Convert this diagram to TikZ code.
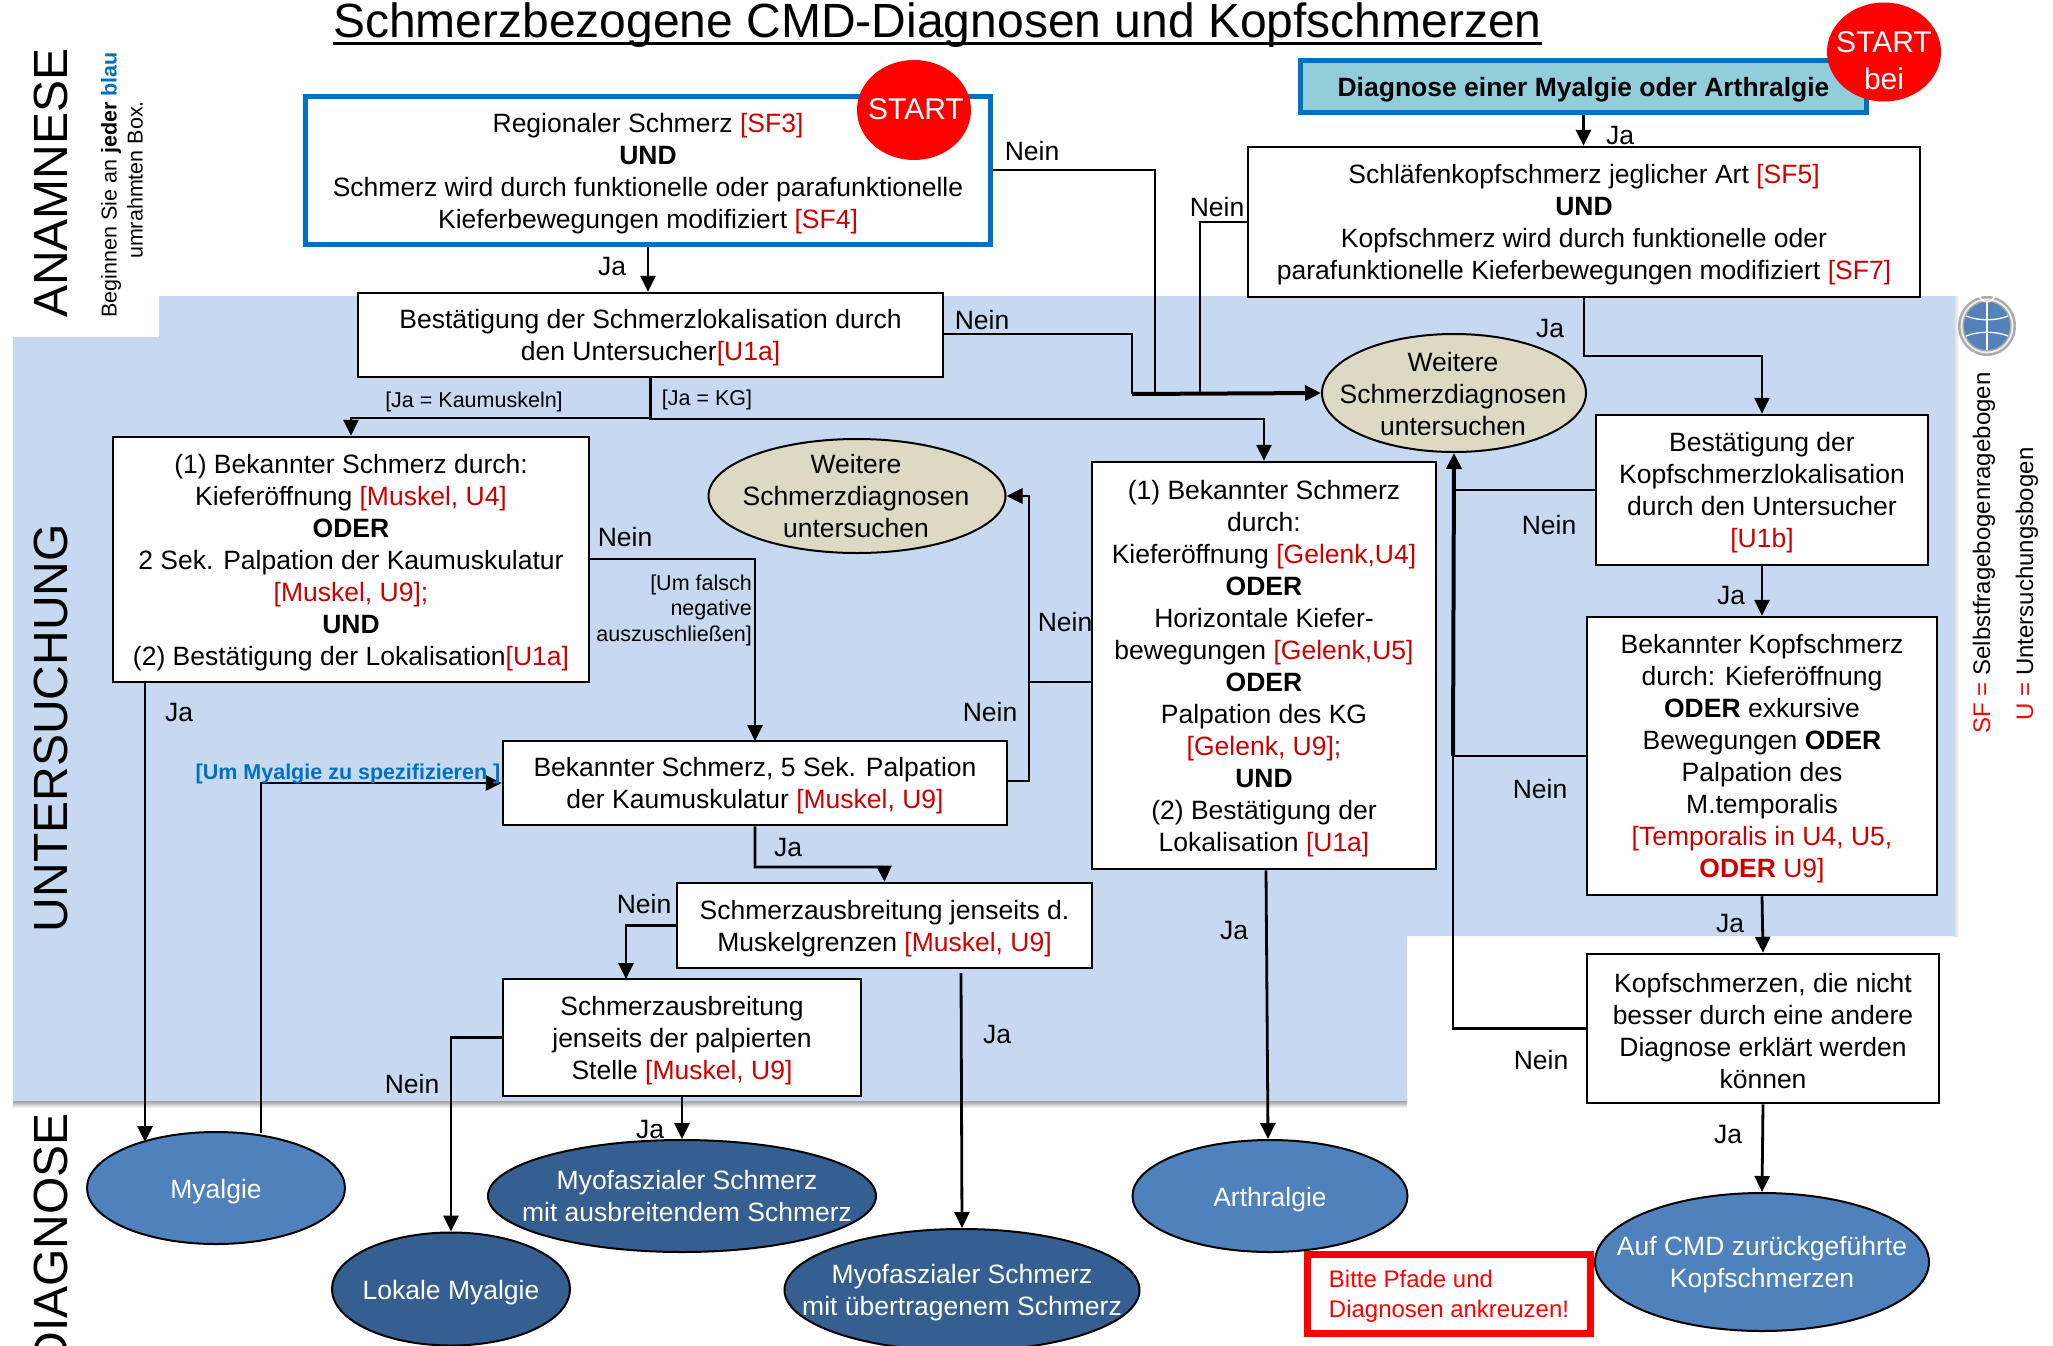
\documentclass[tikz,border=0pt]{standalone}
\usepackage{fontspec}
\setmainfont{Liberation Sans}
\usetikzlibrary{shapes.geometric,arrows.meta}
\definecolor{bgblue}{RGB}{198,217,241}
\definecolor{startblue}{RGB}{0,112,192}
\definecolor{headteal}{RGB}{146,205,220}
\definecolor{refred}{RGB}{204,0,0}
\definecolor{tan}{RGB}{221,217,195}
\definecolor{diagA}{RGB}{79,129,189}
\definecolor{diagB}{RGB}{54,95,145}
\newcommand{\rf}[1]{\textcolor{refred}{#1}}
\newcommand{\fs}[2]{\fontsize{#1}{#2}\selectfont}
\newcommand{\tp}{\rule{0pt}{24.5pt}}
\tikzset{
  x=1pt,y=-1pt,
  box/.style={draw=black,fill=white,line width=2.5pt,inner sep=0pt,align=center,font=\fs{26.5}{32}},
  startbox/.style={draw=startblue,line width=5.5pt,inner sep=0pt,align=center,font=\fs{26.5}{32}},
  redoval/.style={ellipse,fill=red,inner sep=0pt},
  ovaltext/.style={align=center,font=\fs{26.5}{32},inner sep=0pt},
  starttext/.style={align=center,font=\fs{30}{32},inner sep=0pt,text=white},
  oval/.style={ellipse,draw=black,line width=2pt,inner sep=0pt},
  tanoval/.style={oval,fill=tan},
  diaga/.style={oval,fill=diagA},
  diagb/.style={oval,fill=diagB},
  conn/.style={draw=black,line width=2.8pt,-{Triangle[length=16pt,width=15pt]}},
  plainconn/.style={draw=black,line width=2.8pt},
  thickconn/.style={draw=black,line width=4pt,-{Triangle[length=16pt,width=15pt]}},
  lab/.style={font=\fs{26.5}{32},inner sep=0pt},
  small/.style={font=\fs{21.5}{25.5},inner sep=0pt},
  section/.style={font=\fs{48}{50},rotate=90,inner sep=0pt},
  side/.style={font=\fs{24}{26},rotate=90,inner sep=0pt},
}
\begin{document}
\begin{tikzpicture}
\useasboundingbox (0,0) rectangle (2053,1346);
\fill[white] (0,0) rectangle (2053,1346);
% background band
\shade[top color=gray!75,bottom color=white] (13,1101) rectangle (1407,1108);
\shade[left color=gray!30,right color=white] (1954,296) rectangle (1959,936);
\fill[bgblue] (159,296) -- (1954,296) -- (1954,936) -- (1407,936) -- (1407,1101) -- (13,1101) -- (13,337) -- (159,337) -- cycle;
% title
\node[font=\fs{48}{50},anchor=base,inner sep=0pt] (title) at (937.5,38) {Schmerzbezogene CMD-Diagnosen und Kopfschmerzen};
\draw[line width=3pt] (title.west |- 0,44) -- (title.east |- 0,44);
% side texts
\node[section] (anam) at (51,183) {ANAMNESE};
\node[section] (unter) at (51,728) {UNTERSUCHUNG};
\node[section,anchor=east] (diag) at (51,1113) {DIAGNOSE};
\node[font=\fs{21.5}{24},rotate=90,inner sep=0pt] (beg1) at (111,185) {Beginnen Sie an \textbf{jeder} \textcolor{startblue}{\textbf{blau}}};
\node[font=\fs{21.5}{24},rotate=90,inner sep=0pt] (beg2) at (135,180) {umrahmten Box.};
\node[side] (sf) at (1984,553) {\textcolor{red}{SF =} Selbstfragebogenragebogen};
\node[side] (ub) at (2027,584) {\textcolor{red}{U =} Untersuchungsbogen};
% logo
\begin{scope}
\fill[gray!65] (1987,326) ellipse [x radius=29,y radius=30];
\fill[gray!15] (1987,326) ellipse [x radius=26.5,y radius=27.5];
\fill[gray!70] (1987,326) ellipse [x radius=24.5,y radius=25.5];
\fill[diagA!90!gray] (1987,326) ellipse [x radius=23,y radius=24];
\draw[white,line width=1.3pt] (1987,302) -- (1987,350);
\draw[white,line width=1.3pt] (1987,302) arc [start angle=90,end angle=270,x radius=12,y radius=24];
\draw[white,line width=1.3pt] (1987,302) arc [start angle=90,end angle=-90,x radius=12,y radius=24];
\draw[white,line width=1.3pt] (1966,316) .. controls (1978,321) and (1996,321) .. (2008,316);
\draw[white,line width=1.3pt] (1966,336) .. controls (1978,331) and (1996,331) .. (2008,336);
\end{scope}
% boxes
\node[startbox,fill=white,minimum width=685,minimum height=148] (regional) at (648,170.5) {\tp Regionaler Schmerz \rf{[SF3]}\\\textbf{UND}\\Schmerz wird durch funktionelle oder parafunktionelle\\Kieferbewegungen modifiziert \rf{[SF4]}};
\node[redoval,minimum width=114,minimum height=100,label={[starttext,xshift=2pt,yshift=1pt]center:START}] (start1) at (914,110) {};
\node[startbox,fill=headteal,minimum width=566,minimum height=52] (head) at (1583.5,86.5) {\rule{0pt}{26pt}\textbf{Diagnose einer Myalgie oder Arthralgie}};
\node[redoval,minimum width=114,minimum height=99,label={[starttext,yshift=-9pt]center:START\\[5pt]bei}] (start2) at (1884,52) {};
\node[box,minimum width=672,minimum height=150] (schlaef) at (1584,222) {\tp Schläfenkopfschmerz jeglicher Art \rf{[SF5]}\\\textbf{UND}\\Kopfschmerz wird durch funktionelle oder\\parafunktionelle Kieferbewegungen modifiziert \rf{[SF7]}};
\node[box,minimum width=585,minimum height=84] (best) at (650.5,335) {\tp Bestätigung der Schmerzlokalisation durch\\den Untersucher\rf{[U1a]}};
\node[box,minimum width=476,minimum height=245] (musk) at (351,559.5) {\tp(1) Bekannter Schmerz durch:\\Kieferöffnung \rf{[Muskel, U4]}\\\textbf{ODER}\\2 Sek. Palpation der Kaumuskulatur\\\rf{[Muskel, U9];}\\\textbf{UND}\\(2) Bestätigung der Lokalisation\rf{[U1a]}};
\node[box,minimum width=344,minimum height=407] (gelenk) at (1264,665.5) {\tp(1) Bekannter Schmerz\\durch:\\Kieferöffnung \rf{[Gelenk,U4]}\\\textbf{ODER}\\Horizontale Kiefer-\\bewegungen \rf{[Gelenk,U5]}\\\textbf{ODER}\\Palpation des KG\\\rf{[Gelenk, U9];}\\\textbf{UND}\\(2) Bestätigung der\\Lokalisation \rf{[U1a]}};
\node[box,minimum width=504,minimum height=84] (palp) at (755,783) {\tp Bekannter Schmerz, 5 Sek. Palpation\\der Kaumuskulatur \rf{[Muskel, U9]}};
\node[box,minimum width=415,minimum height=85] (ausb) at (884.5,925.5) {\tp Schmerzausbreitung jenseits d.\\Muskelgrenzen \rf{[Muskel, U9]}};
\node[box,minimum width=358,minimum height=117] (stelle) at (682,1037.5) {\tp Schmerzausbreitung\\jenseits der palpierten\\Stelle \rf{[Muskel, U9]}};
\node[box,minimum width=332,minimum height=150] (kopfl) at (1762,490) {\tp Bestätigung der\\Kopfschmerzlokalisation\\durch den Untersucher\\\rf{[U1b]}};
\node[box,minimum width=350,minimum height=278] (kopfb) at (1762,756) {\tp Bekannter Kopfschmerz\\durch: Kieferöffnung\\\textbf{ODER} exkursive\\Bewegungen \textbf{ODER}\\Palpation des\\M.temporalis\\\rf{[Temporalis in U4, U5,}\\\rf{\textbf{ODER} U9]}};
\node[box,minimum width=352,minimum height=149] (nicht) at (1763,1028.5) {\tp Kopfschmerzen, die nicht\\besser durch eine andere\\Diagnose erklärt werden\\können};
% ovals
\node[tanoval,minimum width=297,minimum height=114,label={[ovaltext,xshift=-1pt]center:Weitere\\Schmerzdiagnosen\\untersuchen}] (weitL) at (857,496) {};
\node[tanoval,minimum width=264,minimum height=118,label={[ovaltext,yshift=-1.5pt,xshift=-1pt]center:Weitere\\Schmerzdiagnosen\\untersuchen}] (weitR) at (1454,393) {};
\node[diaga,minimum width=258,minimum height=112,label={[ovaltext,text=white,yshift=-3.5pt]center:Myalgie}] (myalgie) at (216,1188) {};
\node[diagb,minimum width=388,minimum height=112,label={[ovaltext,text=white,xshift=5pt]center:Myofaszialer Schmerz\\mit ausbreitendem Schmerz}] (myoA) at (682,1196) {};
\node[diagb,minimum width=238,minimum height=113,label={[ovaltext,text=white,yshift=-3.5pt]center:Lokale Myalgie}] (lokal) at (451,1289) {};
\node[diagb,minimum width=355,minimum height=122,label={[ovaltext,text=white,yshift=-3pt]center:Myofaszialer Schmerz\\mit übertragenem Schmerz}] (myoU) at (962,1290) {};
\node[diaga,minimum width=275,minimum height=112,label={[ovaltext,text=white,yshift=-3.5pt]center:Arthralgie}] (arth) at (1270,1196) {};
\node[diaga,minimum width=334,minimum height=138,label={[ovaltext,text=white,yshift=-3pt]center:Auf CMD zurückgeführte\\Kopfschmerzen}] (cmd) at (1762,1262) {};
% red note
\node[draw=red,line width=7pt,minimum width=283,minimum height=79,inner sep=0pt,align=left,text=red,font=\fs{24}{30}] (note) at (1449,1294) {\rule{0pt}{21pt}Bitte Pfade und\\Diagnosen ankreuzen!};
% coordinates
\coordinate (bus) at (1132,394);
\coordinate (busB) at (1155,394);
\coordinate (busC) at (1200,394);
\coordinate (upL) at (1029,496);
\coordinate (vert) at (1453,756);
% connectors
\draw[conn] (regional.south) -- (regional.south |- best.north);
\draw[conn] (head.south) -- (head.south |- schlaef.north);
\draw[plainconn] (regional.east |- 0,170) -| (busB);
\draw[plainconn] (schlaef.west |- 0,222) -| (busC);
\draw[plainconn] (best.east |- 0,334) -| (bus);
\draw[thickconn] (bus) -- (weitR.west);
\draw[conn] (best.south) |- (0,418 -| musk.north) -- (musk.north);
\draw[conn] (best.south) |- (0,419 -| gelenk.north) -- (gelenk.north);
\draw[conn] (musk.east |- 0,559) -| (755,741);
\draw[conn] (palp.east |- 0,781) -| (upL) -- (weitL.east);
\draw[plainconn] (gelenk.west |- 0,682) -- (1029,682);
\draw[conn] (gelenk.south -| 1266,0) -- (arth.north -| 1268,0);
\draw[conn] (schlaef.south) |- (kopfl.north |- 0,356) -- (kopfl.north);
\draw[conn] (kopfl.south) -- (kopfb.north);
\draw[conn] (kopfb.south) -- (nicht.north);
\draw[conn] (nicht.south) -- (cmd.north);
\draw[plainconn] (kopfl.west) -- (1453,490);
\draw[thickconn] (vert) -- (weitR.south);
\draw[plainconn] (kopfb.west |- 0,756) -- (vert);
\draw[plainconn] (nicht.west) -| (vert);
\draw[conn] (musk.south west -| 145,0) -- (145,1142);
\draw[conn] (261,1133) |- (palp.west |- 0,783);
\draw[conn] (palp.south) |- (884,867) -- (ausb.north);
\draw[conn] (ausb.west) -| (626,979);
\draw[conn] (stelle.west) -| (lokal.north);
\draw[conn] (stelle.south) -- (myoA.north);
\draw[conn] (961,973) -- (myoU.north);
% labels
\node[lab] (l1) at (612,267) {Ja};
\node[lab] (l2) at (1620,136) {Ja};
\node[lab] (l3) at (1032,151) {Nein};
\node[lab] (l4) at (1217,207) {Nein};
\node[lab] (l5) at (982,320) {Nein};
\node[lab] (l6) at (1550,329) {Ja};
\node[lab] (l7) at (625,537) {Nein};
\node[lab] (l8) at (1065,622) {Nein};
\node[lab] (l9) at (990,712) {Nein};
\node[lab] (l10) at (1549,525) {Nein};
\node[lab] (l11) at (1731,596) {Ja};
\node[lab] (l12) at (1540,789) {Nein};
\node[lab] (l13) at (1730,924) {Ja};
\node[lab] (l14) at (1541,1060) {Nein};
\node[lab] (l15) at (1728,1134) {Ja};
\node[lab] (l16) at (1234,931) {Ja};
\node[lab] (l17) at (179,713) {Ja};
\node[lab] (l18) at (788,848) {Ja};
\node[lab] (l19) at (644,904) {Nein};
\node[lab] (l20) at (412,1084) {Nein};
\node[lab] (l21) at (650,1129) {Ja};
\node[lab] (l22) at (997,1035) {Ja};
\node[small] (s1) at (474,402) {[Ja = Kaumuskeln]};
\node[small] (s2) at (707,400) {[Ja = KG]};
\node[small,align=right,anchor=east] (s3) at (752,610) {[Um falsch\\negative\\auszuschließen]};
\node[small,text=startblue] (s4) at (348,774) {\textbf{[Um Myalgie zu spezifizieren ]}};
\end{tikzpicture}
\end{document}
